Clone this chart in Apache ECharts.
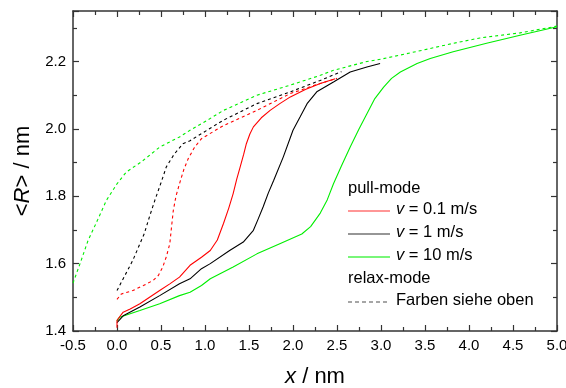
<!DOCTYPE html>
<html>
<head>
<meta charset="utf-8">
<script src="https://cdn.jsdelivr.net/npm/echarts@6/dist/echarts.min.js"></script>
<style>html,body{margin:0;padding:0;background:#fff}#c{width:566px;height:388px}</style>
</head>
<body>
<div id="c"></div>
<script>
// ---- data (x in nm, <R> in nm) ----
var redPull = [[0,1.41],[0,1.432],[0.07,1.456],[0.15,1.465],[0.26,1.481],[0.37,1.50],[0.485,1.52],[0.6,1.54],[0.71,1.56],[0.83,1.595],[0.96,1.619],[1.06,1.639],[1.14,1.67],[1.21,1.719],[1.27,1.765],[1.32,1.808],[1.36,1.85],[1.4,1.887],[1.44,1.925],[1.47,1.956],[1.51,1.985],[1.55,2.006],[1.64,2.033],[1.74,2.055],[1.85,2.075],[1.97,2.095],[2.14,2.117],[2.31,2.135],[2.48,2.149]];
var blackPull = [[0,1.425],[0.07,1.445],[0.26,1.471],[0.485,1.505],[0.71,1.54],[0.83,1.555],[0.96,1.585],[1.06,1.6],[1.28,1.639],[1.435,1.664],[1.55,1.699],[1.6,1.73],[1.66,1.768],[1.72,1.81],[1.78,1.847],[1.89,1.917],[2.0,1.996],[2.08,2.035],[2.16,2.075],[2.27,2.11],[2.46,2.139],[2.65,2.169],[2.84,2.184],[2.99,2.194]];
var greenPull = [[0,1.43],[0.03,1.441],[0.26,1.461],[0.485,1.481],[0.71,1.505],[0.83,1.515],[0.96,1.535],[1.06,1.555],[1.32,1.59],[1.59,1.629],[1.85,1.659],[2.1,1.688],[2.2,1.71],[2.31,1.75],[2.39,1.79],[2.46,1.837],[2.55,1.89],[2.65,1.946],[2.75,2.0],[2.84,2.045],[2.93,2.09],[3.03,2.124],[3.12,2.15],[3.22,2.169],[3.41,2.194],[3.56,2.209],[3.82,2.229],[4.2,2.254],[4.58,2.278],[5.0,2.303]];
var redRelax = [[0,1.494],[0.05,1.51],[0.18,1.52],[0.3,1.535],[0.41,1.55],[0.47,1.565],[0.52,1.59],[0.56,1.62],[0.6,1.659],[0.62,1.71],[0.64,1.758],[0.67,1.8],[0.71,1.837],[0.76,1.88],[0.81,1.912],[0.88,1.945],[0.96,1.971],[1.21,2.01],[1.59,2.055],[1.97,2.105],[2.31,2.135],[2.5,2.15]];
var blackRelax = [[0,1.52],[0.05,1.545],[0.18,1.61],[0.31,1.689],[0.37,1.74],[0.43,1.788],[0.5,1.84],[0.56,1.887],[0.65,1.925],[0.75,1.956],[0.83,1.965],[0.96,1.986],[1.21,2.026],[1.59,2.075],[1.97,2.11],[2.31,2.144],[2.55,2.17]];
var greenRelax = [[-0.5,1.542],[-0.42,1.6],[-0.33,1.668],[-0.22,1.73],[-0.12,1.788],[0,1.837],[0.106,1.872],[0.276,1.902],[0.485,1.946],[0.71,1.976],[0.83,1.996],[0.977,2.018],[1.21,2.055],[1.59,2.1],[1.97,2.13],[2.31,2.159],[2.46,2.174],[2.84,2.2],[3.0,2.207],[3.48,2.234],[3.82,2.254],[4.125,2.27],[4.58,2.285],[5.0,2.305]];
var legendLabels = ['0.1 m/s','1 m/s','10 m/s'];

var FONT = '"Liberation Sans", Arial, sans-serif';
var RED = '#ff0000', BLACK = '#000000', GREEN = '#00ee00';
var chart = echarts.init(document.getElementById('c'), null, {renderer:'canvas'});

function solid(name, data, color){
  return {name:name, type:'line', data:data, showSymbol:false, symbol:'none', animation:false,
    lineStyle:{color:color, width:1.1}, z:3};
}
function dashed(name, data, color){
  return {name:name, type:'line', data:data, showSymbol:false, symbol:'none', animation:false,
    lineStyle:{color:color, width:1.1, type:[3,3]}, z:2};
}
var axisLine = {show:true, onZero:false, lineStyle:{color:'#333', width:1.5}};
var tick = {show:true, inside:true, length:6, lineStyle:{color:'#333', width:1.2}};
var minor = {show:true, splitNumber:2, length:4, lineStyle:{color:'#333', width:1.2}};

var lx = 348, tx = 396;
var legendGraphics = [
  {type:'text', left:lx, top:180, style:{text:'pull-mode', font:'16.5px '+FONT, fill:'#000'}},
  {type:'line', shape:{x1:lx,y1:211,x2:390,y2:211}, style:{stroke:RED, lineWidth:1.5, opacity:0.55}},
  {type:'line', shape:{x1:lx,y1:234,x2:390,y2:234}, style:{stroke:BLACK, lineWidth:1.5, opacity:0.55}},
  {type:'line', shape:{x1:lx,y1:257,x2:390,y2:257}, style:{stroke:GREEN, lineWidth:1.5, opacity:0.7}},
  {type:'text', left:lx, top:270, style:{text:'relax-mode', font:'16.5px '+FONT, fill:'#000'}},
  {type:'line', shape:{x1:lx,y1:302,x2:390,y2:302}, style:{stroke:'#555', lineWidth:1.3, lineDash:[4,3], opacity:0.7}},
  {type:'text', left:tx, top:292, style:{text:'Farben siehe oben', font:'16.5px '+FONT, fill:'#000'}}
];
[211,234,257].forEach(function(y,i){
  legendGraphics.push({type:'text', left:tx, top:y-10, style:{
    text:'{i|v} = '+legendLabels[i],
    font:'16.5px '+FONT, fill:'#000',
    rich:{i:{fontStyle:'italic', fontSize:16.5, fontFamily:FONT}}
  }});
});

chart.setOption({
  animation:false,
  backgroundColor:'#fff',
  grid:{left:73, right:9, top:11, bottom:57, containLabel:false, outerBoundsMode:'none'},
  xAxis:[{
    type:'value', min:-0.5, max:5.0, interval:0.5,
    name:'{i|x} / nm', nameLocation:'middle', nameGap:35,
    nameTextStyle:{fontSize:22, fontFamily:FONT, color:'#000', rich:{i:{fontStyle:'italic', fontSize:22, fontFamily:FONT}}},
    axisLine:axisLine, axisTick:tick, minorTick:minor, splitLine:{show:false},
    axisLabel:{fontSize:15, fontFamily:FONT, color:'#000', margin:7, formatter:function(v){return v.toFixed(1);}}
  },{
    type:'value', position:'top', min:-0.5, max:5.0, interval:0.5,
    axisLine:axisLine, axisTick:tick, minorTick:minor, splitLine:{show:false}, axisLabel:{show:false}
  }],
  yAxis:[{
    type:'value', min:1.4, max:2.35, interval:0.2,
    name:'<{i|R}> / nm', nameLocation:'middle', nameGap:39, nameRotate:90,
    nameTextStyle:{fontSize:22, fontFamily:FONT, color:'#000', rich:{i:{fontStyle:'italic', fontSize:22, fontFamily:FONT}}},
    axisLine:axisLine, axisTick:tick, minorTick:minor, splitLine:{show:false},
    axisLabel:{fontSize:15, fontFamily:FONT, color:'#000', margin:7, showMaxLabel:false, formatter:function(v){return v.toFixed(1);}}
  },{
    type:'value', position:'right', min:1.4, max:2.35, interval:0.2,
    axisLine:axisLine, axisTick:tick, minorTick:minor, splitLine:{show:false}, axisLabel:{show:false}
  }],
  series:[
    dashed('relax v=10', greenRelax, GREEN),
    dashed('relax v=1', blackRelax, BLACK),
    dashed('relax v=0.1', redRelax, RED),
    solid('pull v=10', greenPull, GREEN),
    solid('pull v=1', blackPull, BLACK),
    solid('pull v=0.1', redPull, RED)
  ],
  graphic:legendGraphics
});
</script>
</body>
</html>
